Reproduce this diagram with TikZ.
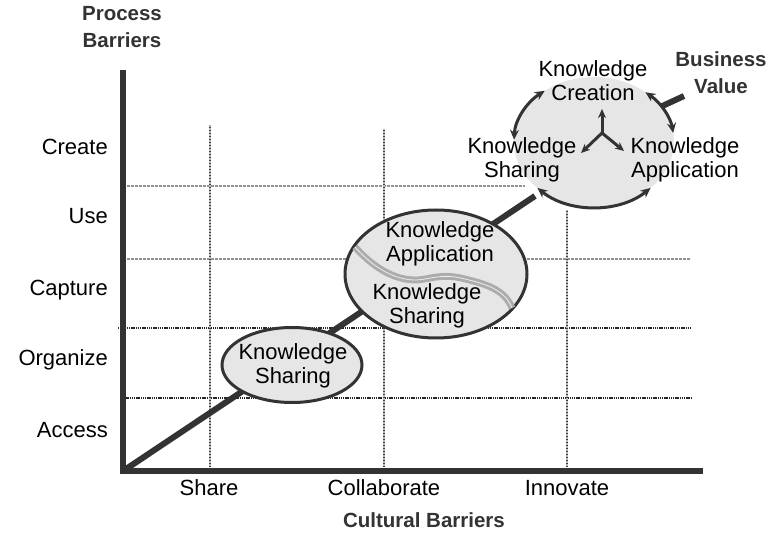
\documentclass[tikz,border=0pt]{standalone}
\usepackage{fontspec}
\setmainfont{Liberation Sans}
\usetikzlibrary{shapes.geometric, arrows.meta, calc}
\definecolor{axisgray}{HTML}{333333}
\definecolor{bubblegray}{HTML}{E6E6E6}

\begin{document}
\begin{tikzpicture}[x=1pt, y=1pt,
    txt/.style={font=\fontsize{22}{24}\selectfont, align=center, inner sep=0pt},
    ylbl/.style={txt, anchor=east, text height=15pt, text depth=4.5pt},
    axlbl/.style={font=\bfseries\fontsize{20.5}{27}\selectfont, align=center, text=axisgray, inner sep=0pt},
    bubble/.style={draw=axisgray, fill=bubblegray, ellipse, line width=3pt, inner sep=0pt},
    gridh/.style={draw=gray!85, line width=2.5pt, dash pattern=on 3pt off 1pt},
    gridhd/.style={draw=black!85, line width=2.5pt, dash pattern=on 1.3pt off 0.9pt},
    gridv/.style={draw=gray!55, line width=2.6pt, postaction={draw=black!75, line width=2.6pt, dash pattern=on 1pt off 2pt}},
    cycarrow/.style={draw=axisgray, line width=3pt, {Stealth[length=10pt,width=9pt]}-{Stealth[length=10pt,width=9pt]}},
    hubarrow/.style={draw=axisgray, line width=3pt, -{Stealth[length=9pt,width=8pt]}}]
    \useasboundingbox (0,0) rectangle (772,533);

    % Grid
    \foreach \y/\xs/\xe/\sty in {347/123/525/gridh, 274/123/691/gridh, 205/118/691/gridhd, 135/123/691/gridhd}
        \draw[\sty] (\xs,\y) -- (\xe,\y);
    \foreach \x/\ytop in {210/408, 384/404, 567/323}
        \draw[gridv] (\x,66) -- (\x,\ytop);

    % Axes
    \coordinate (origin) at (123,62);
    \coordinate (ytop) at (123,463);
    \coordinate (xend) at (703,62);
    \draw[axisgray, line width=6pt] (123,59) -- (ytop);
    \draw[axisgray, line width=6pt] (120,62) -- (xend);

    % Diagonal path
    \coordinate (diagend) at (535,337);
    \draw[axisgray, line width=6pt] (origin) -- (diagend);

    % Axis labels
    \node[axlbl] (procbar) at (122,506) {Process\\Barriers};
    \node[axlbl] (cultbar) at (424,13) {Cultural Barriers};
    \foreach \lbl/\y in {Create/384, Use/315, Capture/243, Organize/173, Access/101}
        \node[ylbl] (y-\lbl) at (108,\y) {\lbl};
    \node[txt] (x-share) at (209,45) {Share};
    \node[txt] (x-collab) at (384,45) {Collaborate};
    \node[txt] (x-innov) at (567,45) {Innovate};

    % Share
    \node[bubble, minimum width=140pt, minimum height=75pt] (share) at (292,168) {};
    \node[txt] (share-txt) at (293,167) {Knowledge\\Sharing};

    % Collaborate
    \node[bubble, minimum width=182pt, minimum height=128pt] (collab) at (436,259) {};
    \draw[draw=gray!65, line width=3pt, double=white!85!gray, double distance=0.8pt]
        (355,286) .. controls (380,258) and (405,250) .. (425,254)
        .. controls (440,257) and (450,258) .. (465,254)
        .. controls (490,248) and (505,242) .. (512,225);
    \node[txt] (collab-app) at (440,289) {Knowledge\\Application};
    \node[txt] (collab-share) at (427,227) {Knowledge\\Sharing};

    % Innovate
    \node[ellipse, fill=bubblegray, minimum width=160pt, minimum height=130pt] (kcycle) at (594,391) {};
    \coordinate (arcL) at ($(kcycle.center)+(128:80pt and 65pt)$);
    \coordinate (arcR) at ($(kcycle.center)+(50:80pt and 65pt)$);
    \coordinate (arcB) at ($(kcycle.center)+(225:80pt and 65pt)$);
    \draw[cycarrow] (arcL) arc[start angle=128, end angle=178, x radius=80pt, y radius=65pt];
    \draw[cycarrow] (arcR) arc[start angle=50, end angle=8, x radius=80pt, y radius=65pt];
    \draw[cycarrow] (arcB) arc[start angle=225, end angle=315, x radius=80pt, y radius=65pt];

    \coordinate (hub) at (602,400);
    \coordinate (hub-up) at (602,424);
    \coordinate (hub-left) at (581,380);
    \coordinate (hub-right) at (624,382);
    \draw[hubarrow] (hub) -- (hub-up);
    \draw[hubarrow] (hub) -- (hub-left);
    \draw[hubarrow] (hub) -- (hub-right);

    \node[txt] (k-create) at (593,452) {Knowledge\\Creation};
    \node[txt] (k-share) at (522,373) {Knowledge\\Sharing};
    \node[txt] (k-apply) at (685,373) {Knowledge\\Application};

    % Business value
    \node[axlbl] (bvalue) at (721,460) {Business\\Value};
    \coordinate (bvstart) at (684,437);
    \coordinate (bvtip) at ($(kcycle.center)+(33:80pt and 65pt)$);
    \draw[axisgray, line width=6pt] (bvstart) -- (bvtip);
\end{tikzpicture}
\end{document}
